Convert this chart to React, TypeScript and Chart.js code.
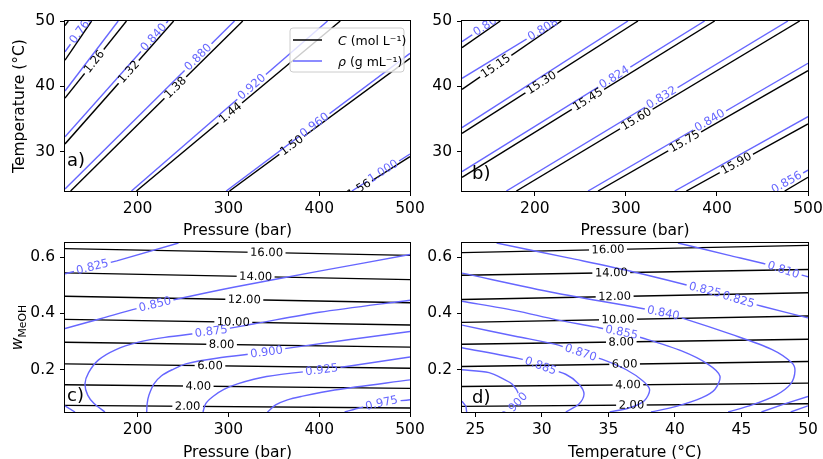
import React, { useEffect, useRef } from 'react';
import { Chart, registerables } from 'chart.js';

Chart.register(...registerables);

type Pt = [number, number];

const W = 860;
const H = 459;
const FONT = "'DejaVu Sans', sans-serif";
const BLACK = '#000000';
const BLUE = '#6666ff';
const TICK = 15.5;
const LBL = 11.5;

// ================= Panel a: pressure (bar) vs temperature (°C) =================
const A_X_TICKS = [200, 300, 400, 500];
const A_Y_TICKS = [30, 40, 50];
// concentration C (mol/L)
const A_C_114: Pt[] = [[120, 49.3], [123.6, 50]];
const A_C_120: Pt[] = [[120, 44.0], [149.3, 50]];
const A_C_126: Pt[] = [[120, 38.2], [187.7, 50]];
const A_C_132: Pt[] = [[120, 31.2], [239.7, 50]];
const A_C_138: Pt[] = [[126.2, 24], [315.8, 50]];
const A_C_144: Pt[] = [[198.7, 24], [423.2, 50]];
const A_C_150: Pt[] = [[301.2, 24], [500, 44.3]];
const A_C_156: Pt[] = [[440, 24], [500, 29.25]];
// density rho (g/mL)
const A_R_0760: Pt[] = [[120, 45.3], [144.5, 50]];
const A_R_0800: Pt[] = [[120, 39.3], [178.6, 50]];
const A_R_0840: Pt[] = [[120, 32.3], [233.5, 50]];
const A_R_0880: Pt[] = [[120, 24.3], [306.7, 50]];
const A_R_0920: Pt[] = [[193.2, 24], [409.2, 50]];
const A_R_0960: Pt[] = [[297.6, 24], [500, 45.05]];
const A_R_1000: Pt[] = [[436, 24], [500, 29.66]];

// ================= Panel b =================
const B_C_1500: Pt[] = [[120, 45.92], [162.1, 50]];
const B_C_1515: Pt[] = [[120, 39.55], [229.1, 50]];
const B_C_1530: Pt[] = [[120, 32.82], [313.3, 50]];
const B_C_1545: Pt[] = [[120, 26.09], [397.5, 50]];
const B_C_1560: Pt[] = [[179.7, 24], [490.9, 50]];
const B_C_1575: Pt[] = [[269.4, 24], [500, 42.4]];
const B_C_1590: Pt[] = [[366.4, 24], [500, 34.25]];
const B_C_1605: Pt[] = [[474.4, 24], [500, 26.1]];
const B_R_0800: Pt[] = [[120, 46.84], [154, 50]];
const B_R_0808: Pt[] = [[120, 41.23], [223.6, 50]];
const B_R_0816: Pt[] = [[120, 33.69], [302.3, 50]];
const B_R_0824: Pt[] = [[120, 26.96], [386.5, 50]];
const B_R_0832: Pt[] = [[168.7, 24], [478, 50]];
const B_R_0840: Pt[] = [[258.4, 24], [500, 43.53]];
const B_R_0848: Pt[] = [[353.6, 24], [500, 35.37]];
const B_R_0856: Pt[] = [[459.7, 24], [500, 27.2]];

// ================= Panel c: pressure (bar) vs w_MeOH =================
const C_Y_TICKS = [0.2, 0.4, 0.6];
const C_C_1600: Pt[] = [[120, 0.630], [500, 0.606]];
const C_C_1400: Pt[] = [[120, 0.544], [500, 0.520]];
const C_C_1200: Pt[] = [[120, 0.461], [500, 0.438]];
const C_C_1000: Pt[] = [[120, 0.379], [500, 0.359]];
const C_C_800: Pt[] = [[120, 0.2975], [500, 0.2805]];
const C_C_600: Pt[] = [[120, 0.221], [500, 0.2055]];
const C_C_400: Pt[] = [[120, 0.1467], [500, 0.134]];
const C_C_200: Pt[] = [[120, 0.0736], [500, 0.064]];
const C_R_0825: Pt[] = [[120, 0.541], [177, 0.5865], [245, 0.65]];
const C_R_0850A: Pt[] = [[120, 0.3464], [160, 0.382], [199, 0.417], [245, 0.452], [307, 0.494], [400, 0.55], [500, 0.609]];
const C_R_0850B: Pt[] = [[120, 0.072], [131, 0.05]];
const C_R_0875: Pt[] = [[164, 0.05], [152, 0.08], [145, 0.11], [142, 0.15], [146, 0.19], [157, 0.235], [175, 0.27], [200, 0.297], [230, 0.315], [281, 0.336], [330, 0.364], [400, 0.404], [500, 0.447]];
const C_R_0900: Pt[] = [[210, 0.05], [210.5, 0.08], [212.5, 0.11], [218, 0.15], [226, 0.178], [238, 0.2], [254, 0.222], [287, 0.241], [342, 0.263], [364, 0.276], [500, 0.336]];
const C_R_0925: Pt[] = [[272, 0.05], [275, 0.08], [283, 0.105], [295, 0.13], [310, 0.15], [342, 0.176], [402.7, 0.2], [430, 0.2115], [500, 0.2454]];
const C_R_0950: Pt[] = [[343, 0.05], [352, 0.075], [365, 0.093], [380, 0.105], [417, 0.128], [500, 0.164]];
const C_R_0975: Pt[] = [[428, 0.05], [445, 0.065], [468.8, 0.082], [500, 0.0937]];

// ================= Panel d: temperature (°C) vs w_MeOH =================
const D_X_TICKS = [25, 30, 35, 40, 45, 50];
const D_C_1600: Pt[] = [[24, 0.6158], [50, 0.6417]];
const D_C_1400: Pt[] = [[24, 0.5357], [50, 0.5557]];
const D_C_1200: Pt[] = [[24, 0.4496], [50, 0.4732]];
const D_C_1000: Pt[] = [[24, 0.3683], [50, 0.3907]];
const D_C_800: Pt[] = [[24, 0.2905], [50, 0.3081]];
const D_C_600: Pt[] = [[24, 0.2115], [50, 0.2292]];
const D_C_400: Pt[] = [[24, 0.1407], [50, 0.1525]];
const D_C_200: Pt[] = [[24, 0.07], [50, 0.0795]];
const D_R_0810A: Pt[] = [[40.23, 0.65], [44, 0.607], [47.02, 0.5724], [48.15, 0.5547], [50, 0.53]];
const D_R_0810B: Pt[] = [[48.7, 0.05], [50, 0.072]];
const D_R_0825A: Pt[] = [[26.6, 0.65], [32, 0.597], [36.75, 0.549], [42.26, 0.484], [44.77, 0.449], [46.54, 0.4255], [50, 0.384]];
const D_R_0825B: Pt[] = [[46.5, 0.05], [48.3, 0.08], [50, 0.105]];
const D_R_0840: Pt[] = [[24, 0.543], [31.04, 0.4724], [36.75, 0.4245], [39.13, 0.4018], [40.5, 0.3842], [44.26, 0.3253], [47.27, 0.2723], [48.77, 0.2254], [49.02, 0.196], [48.7, 0.15], [47.6, 0.11], [45.8, 0.075], [44, 0.05]];
const D_R_0855: Pt[] = [[24, 0.443], [28, 0.41], [31.04, 0.378], [34, 0.352], [36, 0.333], [37.5, 0.3136], [40.5, 0.2667], [42.5, 0.2193], [43.38, 0.1777], [43.0, 0.13], [42.0, 0.1], [40.1, 0.07], [38.2, 0.05]];
const D_R_0870: Pt[] = [[24, 0.3584], [28, 0.319], [31.04, 0.29], [32.92, 0.2607], [34.55, 0.237], [36.35, 0.2], [37.6, 0.16], [38.1, 0.129], [37.7, 0.09], [36.6, 0.065], [35.1, 0.05]];
const D_R_0885: Pt[] = [[24, 0.2783], [28.54, 0.237], [29.91, 0.2137], [31.79, 0.184], [32.79, 0.1488], [33.17, 0.1135], [32.79, 0.0782], [31.8, 0.05]];
const D_R_0900: Pt[] = [[24, 0.2], [26.03, 0.19], [27.2, 0.165], [27.78, 0.1488], [28.3, 0.11], [28.2, 0.085], [27.9, 0.07], [27.4, 0.05]];
const D_R_0915: Pt[] = [[24, 0.088], [24.3, 0.07], [24.35, 0.05]];

// ---------------------------------------------------------------
interface Contour { pts: Pt[]; text: string; color: string; labels: Pt[] }
const kc = (pts: Pt[], level: number, dec: number, labels: Pt[] = []): Contour => ({ pts, text: level.toFixed(dec), color: BLACK, labels });
const rc = (pts: Pt[], level: number, labels: Pt[] = []): Contour => ({ pts, text: level.toFixed(3), color: BLUE, labels });

interface Spec {
  area: { l: number; t: number; r: number; b: number };
  xr: [number, number]; yr: [number, number];
  xTicks: number[]; yTicks: number[]; yDec: number;
  contours: Contour[];
  xTitle: string; xTitleBase: number;
  yTitle: 'T' | 'w' | null;
  tag: string; tagPos: [number, number];
  legend: boolean;
}

const SPECS: Spec[] = [
  {
    area: { l: 65, t: 21, r: 410, b: 191 }, xr: [120, 500], yr: [24, 50],
    xTicks: A_X_TICKS, yTicks: A_Y_TICKS, yDec: 0,
    contours: [
      rc(A_R_0760, 0.76, [[138.3, 48.8]]), rc(A_R_0800, 0.8), rc(A_R_0840, 0.84, [[217.7, 47.5]]),
      rc(A_R_0880, 0.88, [[266.4, 44.5]]), rc(A_R_0920, 0.92, [[325.7, 39.9]]), rc(A_R_0960, 0.96, [[394.6, 34.1]]),
      rc(A_R_1000, 1.0, [[471.5, 26.8]]),
      kc(A_C_114, 1.14, 2), kc(A_C_120, 1.2, 2), kc(A_C_126, 1.26, 2, [[152.2, 43.8]]), kc(A_C_132, 1.32, 2, [[190.3, 42.2]]),
      kc(A_C_138, 1.38, 2, [[241.6, 39.8]]), kc(A_C_144, 1.44, 2, [[299.4, 36.4]]), kc(A_C_150, 1.5, 2, [[369.6, 31.0]]),
      kc(A_C_156, 1.56, 2, [[444, 24.3]]),
    ],
    xTitle: 'Pressure (bar)', xTitleBase: 234.5, yTitle: 'T', tag: 'a)', tagPos: [67, 166], legend: true,
  },
  {
    area: { l: 462, t: 21, r: 808, b: 191 }, xr: [120, 500], yr: [24, 50],
    xTicks: A_X_TICKS, yTicks: A_Y_TICKS, yDec: 0,
    contours: [
      rc(B_R_0800, 0.8, [[149, 49.4]]), rc(B_R_0808, 0.808, [[209, 48.7]]), rc(B_R_0816, 0.816),
      rc(B_R_0824, 0.824, [[287.7, 41.3]]), rc(B_R_0832, 0.832, [[338.9, 38.3]]), rc(B_R_0840, 0.84, [[392, 34.8]]),
      rc(B_R_0848, 0.848), rc(B_R_0856, 0.856, [[476.6, 25.3]]),
      kc(B_C_1500, 15.0, 2), kc(B_C_1515, 15.15, 2, [[157, 43.1]]), kc(B_C_1530, 15.3, 2, [[207.1, 40.6]]),
      kc(B_C_1545, 15.45, 2, [[258.4, 38]]), kc(B_C_1560, 15.6, 2, [[311.5, 35]]), kc(B_C_1575, 15.75, 2, [[364.5, 31.6]]),
      kc(B_C_1590, 15.9, 2, [[421.3, 28.2]]), kc(B_C_1605, 16.05, 2),
    ],
    xTitle: 'Pressure (bar)', xTitleBase: 234.5, yTitle: null, tag: 'b)', tagPos: [472, 179.4], legend: false,
  },
  {
    area: { l: 65, t: 243, r: 410, b: 412 }, xr: [120, 500], yr: [0.05, 0.65],
    xTicks: A_X_TICKS, yTicks: C_Y_TICKS, yDec: 1,
    contours: [
      rc(C_R_0825, 0.825, [[150, 0.567]]), rc(C_R_0850A, 0.85, [[219, 0.434]]), rc(C_R_0850B, 0.85),
      rc(C_R_0875, 0.875, [[281, 0.336]]), rc(C_R_0900, 0.9, [[342, 0.263]]), rc(C_R_0925, 0.925, [[402.7, 0.2]]),
      rc(C_R_0950, 0.95), rc(C_R_0975, 0.975, [[468.8, 0.082]]),
      kc(C_C_1600, 16, 2, [[342, 0.615]]), kc(C_C_1400, 14, 2, [[330, 0.533]]), kc(C_C_1200, 12, 2, [[317.5, 0.449]]),
      kc(C_C_1000, 10, 2, [[305.4, 0.37]]), kc(C_C_800, 8, 2, [[292.5, 0.29]]), kc(C_C_600, 6, 2, [[279.7, 0.214]]),
      kc(C_C_400, 4, 2, [[266.8, 0.141]]), kc(C_C_200, 2, 2, [[255.1, 0.069]]),
    ],
    xTitle: 'Pressure (bar)', xTitleBase: 456.5, yTitle: 'w', tag: 'c)', tagPos: [67, 401], legend: false,
  },
  {
    area: { l: 462, t: 243, r: 808, b: 412 }, xr: [24, 50], yr: [0.05, 0.65],
    xTicks: D_X_TICKS, yTicks: C_Y_TICKS, yDec: 1,
    contours: [
      rc(D_R_0810A, 0.81, [[48.15, 0.5547]]), rc(D_R_0810B, 0.81),
      rc(D_R_0825A, 0.825, [[42.26, 0.484], [44.77, 0.449]]), rc(D_R_0825B, 0.825),
      rc(D_R_0840, 0.84, [[39.13, 0.4018]]), rc(D_R_0855, 0.855, [[36, 0.333]]),
      rc(D_R_0870, 0.87, [[32.92, 0.2607]]), rc(D_R_0885, 0.885, [[29.91, 0.2137]]),
      rc(D_R_0900, 0.9, [[27.9, 0.072]]), rc(D_R_0915, 0.915),
      kc(D_C_1600, 16, 2, [[34.97, 0.628]]), kc(D_C_1400, 14, 2, [[35.22, 0.545]]), kc(D_C_1200, 12, 2, [[35.47, 0.460]]),
      kc(D_C_1000, 10, 2, [[35.72, 0.378]]), kc(D_C_800, 8, 2, [[35.97, 0.2986]]), kc(D_C_600, 6, 2, [[36.22, 0.2198]]),
      kc(D_C_400, 4, 2, [[36.47, 0.1464]]), kc(D_C_200, 2, 2, [[36.73, 0.0747]]),
    ],
    xTitle: 'Temperature (°C)', xTitleBase: 456.5, yTitle: null, tag: 'd)', tagPos: [472, 402.7], legend: false,
  },
];

interface Geom { cx: number; cy: number; ang: number; w: number; text: string }

function labelGeoms(chart: any, spec: Spec, i: number): Geom[] {
  const c = spec.contours[i];
  if (!c || !c.labels.length) return [];
  const xs = chart.scales.x, ys = chart.scales.y;
  const pts = c.pts.map(([x, y]) => [xs.getPixelForValue(x), ys.getPixelForValue(y)]);
  const ctx = chart.ctx as CanvasRenderingContext2D;
  ctx.save();
  ctx.font = `${LBL}px ${FONT}`;
  const w = ctx.measureText(c.text).width;
  ctx.restore();
  return c.labels.map(([lxv, lyv]) => {
    const lx = xs.getPixelForValue(lxv), ly = ys.getPixelForValue(lyv);
    let best = { d: Infinity, cx: lx, cy: ly, ang: 0 };
    for (let k = 0; k < pts.length - 1; k++) {
      const [x1, y1] = pts[k], [x2, y2] = pts[k + 1];
      const dx = x2 - x1, dy = y2 - y1;
      const L2 = dx * dx + dy * dy;
      let t = L2 > 0 ? ((lx - x1) * dx + (ly - y1) * dy) / L2 : 0;
      t = Math.max(0, Math.min(1, t));
      const cx = x1 + t * dx, cy = y1 + t * dy;
      const d = (cx - lx) ** 2 + (cy - ly) ** 2;
      if (d < best.d) best = { d, cx, cy, ang: Math.atan2(dy, dx) };
    }
    let a = best.ang;
    if (a > Math.PI / 2) a -= Math.PI;
    if (a < -Math.PI / 2) a += Math.PI;
    return { cx: best.cx, cy: best.cy, ang: a, w, text: c.text };
  });
}

function makeDeco(spec: Spec) {
  return {
    id: 'deco',
    beforeDatasetDraw(chart: any, args: any) {
      const ctx = chart.ctx as CanvasRenderingContext2D;
      ctx.save();
      const gs = labelGeoms(chart, spec, args.index);
      for (const g of gs) {
        const hw = g.w / 2 + 2.5, hh = 6;
        const co = Math.cos(g.ang), si = Math.sin(g.ang);
        const corners = [[-hw, -hh], [hw, -hh], [hw, hh], [-hw, hh]].map(([u, v]) => [g.cx + u * co - v * si, g.cy + u * si + v * co]);
        ctx.beginPath();
        ctx.rect(0, 0, chart.width, chart.height);
        ctx.moveTo(corners[0][0], corners[0][1]);
        for (let k = 1; k < 4; k++) ctx.lineTo(corners[k][0], corners[k][1]);
        ctx.closePath();
        ctx.clip('evenodd');
      }
    },
    afterDatasetDraw(chart: any) {
      chart.ctx.restore();
    },
    afterDatasetsDraw(chart: any) {
      const ctx = chart.ctx as CanvasRenderingContext2D;
      const { left, top, right, bottom } = chart.chartArea;
      // contour labels
      ctx.save();
      ctx.beginPath();
      ctx.rect(left, top, right - left, bottom - top);
      ctx.clip();
      ctx.font = `${LBL}px ${FONT}`;
      ctx.textAlign = 'center';
      ctx.textBaseline = 'middle';
      spec.contours.forEach((c, i) => {
        ctx.fillStyle = c.color;
        for (const g of labelGeoms(chart, spec, i)) {
          ctx.save();
          ctx.translate(g.cx, g.cy);
          ctx.rotate(g.ang);
          ctx.fillText(g.text, 0, 0.5);
          ctx.restore();
        }
      });
      ctx.restore();
      // legend
      if (spec.legend) {
        ctx.save();
        const x0 = 290, y0 = 28, x1 = 404, y1 = 72, r = 3;
        ctx.beginPath();
        ctx.moveTo(x0 + r, y0);
        ctx.arcTo(x1, y0, x1, y1, r);
        ctx.arcTo(x1, y1, x0, y1, r);
        ctx.arcTo(x0, y1, x0, y0, r);
        ctx.arcTo(x0, y0, x1, y0, r);
        ctx.closePath();
        ctx.fillStyle = 'rgba(255,255,255,0.8)';
        ctx.fill();
        ctx.strokeStyle = '#cccccc';
        ctx.lineWidth = 1;
        ctx.stroke();
        const rows: [string, string, string, number][] = [[BLACK, 'C', ' (mol L⁻¹)', 40], [BLUE, 'ρ', ' (g mL⁻¹)', 61]];
        for (const [col, sym, rest, y] of rows) {
          ctx.strokeStyle = col;
          ctx.lineWidth = 1.5;
          ctx.beginPath();
          ctx.moveTo(293, y);
          ctx.lineTo(322, y);
          ctx.stroke();
          ctx.fillStyle = BLACK;
          ctx.textBaseline = 'alphabetic';
          ctx.textAlign = 'left';
          ctx.font = `italic 12.5px ${FONT}`;
          ctx.fillText(sym, 338, y + 4.5);
          const sw = ctx.measureText(sym).width;
          ctx.font = `12.5px ${FONT}`;
          ctx.fillText(rest, 338 + sw, y + 4.5);
        }
        ctx.restore();
      }
      // frame
      ctx.save();
      ctx.strokeStyle = BLACK;
      ctx.lineWidth = 1;
      ctx.strokeRect(Math.round(left) - 0.5, Math.round(top) - 0.5, Math.round(right - left) + 1, Math.round(bottom - top) + 1);
      ctx.restore();
    },
    afterDraw(chart: any) {
      const ctx = chart.ctx as CanvasRenderingContext2D;
      const { l, t, r, b } = spec.area;
      ctx.save();
      ctx.fillStyle = BLACK;
      ctx.textBaseline = 'alphabetic';
      ctx.font = `${TICK}px ${FONT}`;
      ctx.textAlign = 'center';
      ctx.fillText(spec.xTitle, (l + r) / 2, spec.xTitleBase);
      if (spec.yTitle === 'T') {
        ctx.save();
        ctx.translate(23.5, (t + b) / 2);
        ctx.rotate(-Math.PI / 2);
        ctx.textAlign = 'center';
        ctx.fillText('Temperature (°C)', 0, 0);
        ctx.restore();
      } else if (spec.yTitle === 'w') {
        ctx.save();
        ctx.translate(22, (t + b) / 2);
        ctx.rotate(-Math.PI / 2);
        ctx.textAlign = 'left';
        ctx.font = `italic ${TICK}px ${FONT}`;
        const ww = ctx.measureText('w').width;
        ctx.font = `${TICK * 0.7}px ${FONT}`;
        const sw = ctx.measureText('MeOH').width;
        const x0 = -(ww + sw) / 2;
        ctx.font = `italic ${TICK}px ${FONT}`;
        ctx.fillText('w', x0, 0);
        ctx.font = `${TICK * 0.7}px ${FONT}`;
        ctx.fillText('MeOH', x0 + ww, 3.5);
        ctx.restore();
      }
      ctx.font = `18px ${FONT}`;
      ctx.textAlign = 'left';
      ctx.fillText(spec.tag, spec.tagPos[0], spec.tagPos[1]);
      ctx.restore();
    },
  };
}

function buildConfig(spec: Spec): any {
  const { area } = spec;
  const YW = 60, XH = 30;
  const fmtY = (v: number) => v.toFixed(spec.yDec);
  const gridCfg = { display: true, drawOnChartArea: false, drawTicks: true, tickLength: 5, tickColor: BLACK, tickWidth: 1, lineWidth: 1, color: BLACK };
  return {
    type: 'scatter',
    data: {
      datasets: spec.contours.map((c) => ({
        data: c.pts.map(([x, y]) => ({ x, y })),
        showLine: true,
        borderColor: c.color,
        backgroundColor: c.color,
        borderWidth: 1.4,
        pointRadius: 0,
        pointHoverRadius: 0,
        pointHitRadius: 0,
        tension: c.pts.length >= 4 ? 0.3 : 0,
        clip: 0,
        borderJoinStyle: 'round',
      })),
    },
    options: {
      animation: false,
      responsive: false,
      events: [],
      layout: { padding: { left: area.l - YW, top: area.t, right: W - area.r, bottom: H - area.b - XH } },
      plugins: { legend: { display: false }, tooltip: { enabled: false }, title: { display: false } },
      scales: {
        x: {
          type: 'linear', position: 'bottom', min: spec.xr[0], max: spec.xr[1],
          afterBuildTicks: (s: any) => { s.ticks = spec.xTicks.map((v) => ({ value: v })); },
          afterFit: (s: any) => { s.height = XH; },
          grid: gridCfg,
          border: { display: false },
          ticks: { autoSkip: false, maxRotation: 0, minRotation: 0, padding: 4, color: BLACK, font: { family: FONT, size: TICK }, callback: (v: number) => String(v) },
        },
        y: {
          type: 'linear', position: 'left', min: spec.yr[0], max: spec.yr[1],
          afterBuildTicks: (s: any) => { s.ticks = spec.yTicks.map((v) => ({ value: v })); },
          afterFit: (s: any) => { s.width = YW; },
          grid: gridCfg,
          border: { display: false },
          ticks: { autoSkip: false, padding: 5, color: BLACK, font: { family: FONT, size: TICK }, callback: (v: number) => fmtY(v) },
        },
      },
    },
    plugins: [makeDeco(spec)],
  };
}

function Panel({ spec }: { spec: Spec }) {
  const ref = useRef<HTMLCanvasElement>(null);
  useEffect(() => {
    const chart = new Chart(ref.current as HTMLCanvasElement, buildConfig(spec));
    return () => chart.destroy();
  }, [spec]);
  return <canvas ref={ref} width={W} height={H} style={{ position: 'absolute', left: 0, top: 0, width: W, height: H }} />;
}

export default function App() {
  useEffect(() => {
    document.body.style.margin = '0';
  }, []);
  return (
    <div style={{ position: 'absolute', left: 0, top: 0, width: 823, height: 459, overflow: 'hidden', background: '#ffffff' }}>
      {SPECS.map((s, i) => (
        <Panel key={i} spec={s} />
      ))}
    </div>
  );
}
